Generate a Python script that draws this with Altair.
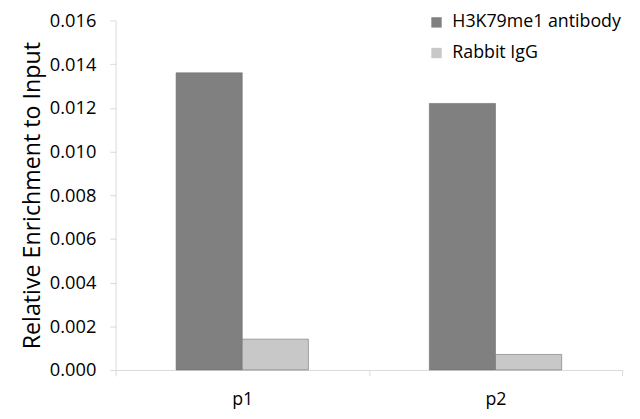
import altair as alt
import pandas as pd

# values
sites = ["p1", "p1", "p2", "p2"]
samples = ["H3K79me1 antibody", "Rabbit IgG", "H3K79me1 antibody", "Rabbit IgG"]
enrichment = [0.0136, 0.00141, 0.0122, 0.00071]
y_ticks = [0.000, 0.002, 0.004, 0.006, 0.008, 0.010, 0.012, 0.014, 0.016]

dat = pd.DataFrame({"site": sites, "sample": samples, "enrichment": enrichment})

font = "Open Sans"
axis_grey = "#d9d9d9"

chart = (
    alt.Chart(dat)
    .mark_bar(strokeWidth=0.6, stroke="#6f6f6f")
    .encode(
        x=alt.X(
            "site:N",
            title=None,
            scale=alt.Scale(paddingInner=0, paddingOuter=0),
            axis=alt.Axis(
                labelAngle=0,
                labelFontSize=18,
                labelColor="#000000",
                labelPadding=15,
                tickBand="extent",
                tickSize=6,
                tickColor=axis_grey,
                domainColor=axis_grey,
                labelFont=font,
            ),
        ),
        xOffset=alt.XOffset(
            "sample:N",
            scale=alt.Scale(paddingInner=0, paddingOuter=0.914),
        ),
        y=alt.Y(
            "enrichment:Q",
            title="Relative Enrichment to Input",
            scale=alt.Scale(domain=[0, 0.016], nice=False),
            axis=alt.Axis(
                values=y_ticks,
                format=".3f",
                grid=False,
                labelFontSize=18.5,
                labelColor="#000000",
                labelPadding=14,
                labelFont=font,
                tickSize=6,
                tickColor=axis_grey,
                domainColor=axis_grey,
                titleFontSize=23.5,
                titleFontWeight="normal",
                titleFont=font,
                titleColor="#000000",
                titlePadding=5,
            ),
        ),
        color=alt.Color(
            "sample:N",
            title=None,
            scale=alt.Scale(
                domain=["H3K79me1 antibody", "Rabbit IgG"],
                range=["#808080", "#c8c8c8"],
            ),
            legend=alt.Legend(
                orient="none",
                legendX=316,
                legendY=-7,
                symbolType="square",
                symbolSize=110,
                symbolStrokeWidth=0,
                symbolOffset=0,
                labelOffset=7,
                labelFontSize=18,
                labelFont=font,
                labelColor="#000000",
                labelLimit=300,
                rowPadding=13,
            ),
        ),
    )
    .properties(
        width=513,
        height=354,
        autosize=alt.AutoSizeParams(type="none"),
        padding={"left": 109, "top": 10, "right": 10, "bottom": 40},
    )
    .configure_view(stroke=None)
)

chart.save("out.html", embed_options={"renderer": "svg", "actions": False})
